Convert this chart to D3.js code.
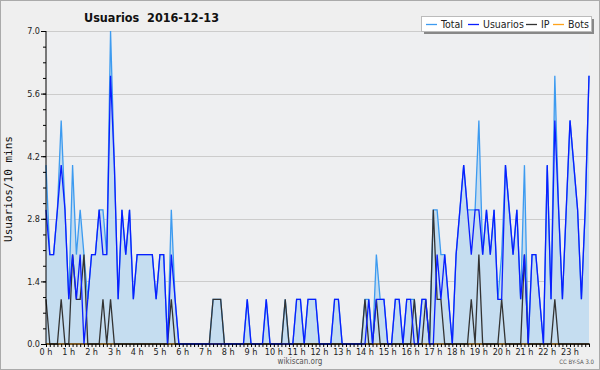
<!DOCTYPE html>
<html>
<head>
<meta charset="utf-8">
<script src="https://cdn.jsdelivr.net/npm/d3@7"></script>
<style>
  body { margin: 0; background: #fff; }
  svg text { font-family: "DejaVu Sans Condensed", "DejaVu Sans", sans-serif; }
</style>
</head>
<body>
<div class="chart"></div>
<script>
// Usuarios per 10 min, 2016-12-13 (144 slots)
var total = [4,2,2,3,5,3,1,4,2,3,2,1,2,2,3,3,2,7,4,1,3,2,3,1,2,2,2,2,2,1,2,2,0,3,1,0,
  0,0,0,0,0,0,0,0,1,1,1,0,0,0,0,0,0,1,0,0,0,0,1,0,0,0,0,1,0,0,1,1,0,1,1,1,
  0,0,0,0,1,1,0,0,0,0,0,0,1,1,0,2,1,1,0,0,1,1,0,1,1,1,0,1,1,0,3,3,2,2,1,0,
  2,3,4,3,3,3,5,2,3,2,3,1,2,4,3,2,3,1,4,0,2,2,1,0,4,1,6,3,1,3,5,4,3,1,3,6];
var usuarios = [3,2,2,3,4,3,1,2,1,2,0,1,2,2,3,2,2,6,4,1,3,2,3,1,2,2,2,2,2,1,2,2,0,2,1,0,
  0,0,0,0,0,0,0,0,0,0,0,0,0,0,0,0,0,1,0,0,0,0,1,0,0,0,0,0,0,0,1,1,0,1,1,1,
  0,0,0,0,1,1,0,0,0,0,0,0,0,1,0,1,1,1,0,0,1,1,0,1,1,0,0,1,1,0,0,2,1,2,1,0,
  2,3,4,3,2,3,3,2,3,2,3,1,1,4,3,2,3,1,2,0,2,2,1,0,4,1,5,3,1,3,5,4,3,1,3,6];
var ip = [1,0,0,0,1,0,0,2,1,1,2,0,0,0,0,1,0,1,0,0,0,0,0,0,0,0,0,0,0,0,0,0,0,1,0,0,
  0,0,0,0,0,0,0,0,1,1,1,0,0,0,0,0,0,0,0,0,0,0,0,0,0,0,0,1,0,0,0,0,0,0,0,0,
  0,0,0,0,0,0,0,0,0,0,0,0,1,0,0,1,0,0,0,0,0,0,0,0,0,1,0,0,1,0,3,1,1,0,0,0,
  0,0,0,0,1,0,2,0,0,0,0,0,1,0,0,0,0,0,2,0,0,0,0,0,0,0,1,0,0,0,0,0,0,0,0,0];
var bots = [];
for (var k = 0; k < 144; k++) bots.push(0);

var hours = ["0 h","1 h","2 h","3 h","4 h","5 h","6 h","7 h","8 h","9 h","10 h","11 h",
  "12 h","13 h","14 h","15 h","16 h","17 h","18 h","19 h","20 h","21 h","22 h","23 h"];
var yTicks = [0, 1.4, 2.8, 4.2, 5.6, 7.0];

var legendData = [
  {name: "Total", color: "#3d9bf0"},
  {name: "Usuarios", color: "#0a1eff"},
  {name: "IP", color: "#333333"},
  {name: "Bots", color: "#ffa31a"}
];

var width = 600, height = 370;
var svg = d3.select(".chart").append("svg")
  .attr("width", width)
  .attr("height", height);

svg.append("rect")
  .attr("x", 0.5).attr("y", 0.5)
  .attr("width", width - 1).attr("height", height - 1)
  .attr("fill", "#efefef")
  .attr("stroke", "#aaaaaa");

var x = d3.scaleLinear().domain([0, 143]).range([46, 589]);
var y = d3.scaleLinear().domain([0, 7]).range([344, 31]);

// plot background + grid
svg.append("rect")
  .attr("x", 46).attr("y", 31)
  .attr("width", 543).attr("height", 313)
  .attr("fill", "#eeeff1");

svg.append("g")
  .selectAll("line")
  .data(yTicks.slice(1))
  .enter().append("line")
  .attr("x1", 46).attr("x2", 589)
  .attr("y1", function(d) { return Math.round(y(d)) + 0.5; })
  .attr("y2", function(d) { return Math.round(y(d)) + 0.5; })
  .attr("stroke", "#cccccc");

var area = d3.area()
  .x(function(d, i) { return x(i); })
  .y0(y(0))
  .y1(function(d) { return y(d); });

var line = d3.line()
  .x(function(d, i) { return x(i); })
  .y(function(d) { return y(d); });

svg.append("path")
  .datum(total)
  .attr("fill", "#c5ddf0")
  .attr("d", area);

var series = [bots, total, ip, usuarios];
var colors = [legendData[3].color, legendData[0].color, legendData[2].color, legendData[1].color];
series.forEach(function(s, j) {
  svg.append("path")
    .datum(s)
    .attr("fill", "none")
    .attr("stroke", colors[j])
    .attr("stroke-width", 1.3)
    .attr("stroke-linejoin", "miter")
    .attr("d", line);
});

// y axis
var yAxis = d3.axisLeft(y)
  .tickValues(d3.range(0, 7.01, 0.35))
  .tickSize(3)
  .tickFormat("");
svg.append("g")
  .attr("transform", "translate(46,0)")
  .call(yAxis)
  .call(function(g) { g.select(".domain").remove(); });

svg.append("g")
  .attr("transform", "translate(46,0)")
  .call(d3.axisLeft(y).tickValues(yTicks).tickSize(5).tickPadding(1)
    .tickFormat(d3.format(".1f")))
  .call(function(g) {
    g.select(".domain").attr("d", "M0,31V344");
    g.selectAll("text").style("font-size", "9px").attr("fill", "#222");
  });

svg.append("text")
  .attr("transform", "translate(12,189) rotate(-90)")
  .attr("text-anchor", "middle")
  .style("font-family", "'DejaVu Sans Mono', monospace")
  .style("font-size", "11px")
  .attr("fill", "#111")
  .text("Usuarios/10 mins");

// x axis
svg.append("g")
  .attr("transform", "translate(0,344)")
  .call(d3.axisBottom(x).tickValues(d3.range(0, 144)).tickSize(3).tickFormat(""))
  .call(function(g) { g.select(".domain").attr("d", "M46,0H590"); });

svg.append("g")
  .selectAll("text")
  .data(hours)
  .enter().append("text")
  .attr("x", function(d, i) { return x(i * 6); })
  .attr("y", 355)
  .attr("text-anchor", "middle")
  .style("font-size", "9px")
  .attr("fill", "#222")
  .text(function(d) { return d; });

// title
svg.append("text")
  .attr("x", 84).attr("y", 22)
  .style("font-size", "12.5px")
  .style("font-weight", "bold")
  .attr("fill", "#111")
  .attr("xml:space", "preserve")
  .text("Usuarios  2016-12-13");

// legend
var legend = svg.append("g").attr("class", "legend");
legend.append("rect")
  .attr("x", 424).attr("y", 19)
  .attr("width", 170).attr("height", 15)
  .attr("fill", "#888888");
legend.append("rect")
  .attr("x", 421.5).attr("y", 16.5)
  .attr("width", 170).attr("height", 15)
  .attr("fill", "#ffffff")
  .attr("stroke", "#bbbbbb");

var legendX = [426, 468, 526, 553];
legendData.forEach(function(d, i) {
  legend.append("line")
    .attr("x1", legendX[i]).attr("x2", legendX[i] + 11)
    .attr("y1", 24.5).attr("y2", 24.5)
    .attr("stroke", d.color)
    .attr("stroke-width", 1.3);
  legend.append("text")
    .attr("x", legendX[i] + 15)
    .attr("y", 28)
    .style("font-size", "10.5px")
    .attr("fill", "#222")
    .text(d.name);
});

svg.append("text")
  .attr("x", 300).attr("y", 364)
  .attr("text-anchor", "middle")
  .style("font-size", "8px")
  .attr("fill", "#555")
  .text("wikiscan.org");

svg.append("text")
  .attr("x", 594).attr("y", 364)
  .attr("text-anchor", "end")
  .style("font-size", "6px")
  .attr("fill", "#555")
  .text("CC BY-SA 3.0");
</script>
</body>
</html>
